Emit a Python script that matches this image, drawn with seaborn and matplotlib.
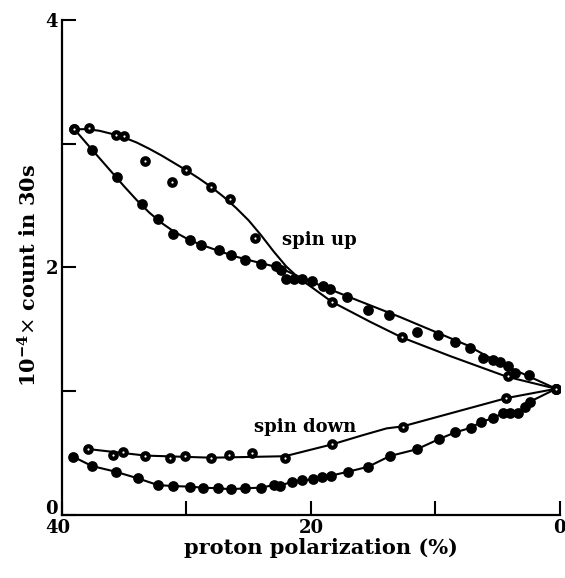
import matplotlib
matplotlib.use("Agg")
import matplotlib.pyplot as plt
import matplotlib.transforms as mtransforms
import pandas as pd
import seaborn as sns

# spin up, open-circle series (upper arc, then lower line on the right)
up_open_x = [39.0, 37.8, 35.7, 35.0, 33.3, 31.2, 30.0, 28.0, 26.5, 24.5, 18.3, 12.7, 4.2, 0.3]
up_open_y = [3.12, 3.13, 3.07, 3.06, 2.86, 2.69, 2.79, 2.65, 2.55, 2.24, 1.72, 1.44, 1.12, 1.02]

# spin up, filled series
up_fill_x = [39.0, 37.6, 35.6, 33.6, 32.3, 31.1, 29.7, 28.8, 27.4, 26.4, 25.3, 24.0, 22.8, 22.4,
             22.0, 21.4, 20.7, 19.9, 19.0, 18.5, 17.1, 15.4, 13.7, 11.5, 9.8, 8.4, 7.2, 6.2,
             5.4, 4.8, 4.2, 3.6, 2.5, 0.3]
up_fill_y = [3.12, 2.95, 2.73, 2.51, 2.39, 2.27, 2.22, 2.18, 2.14, 2.10, 2.06, 2.03, 2.01, 1.98,
             1.91, 1.91, 1.905, 1.89, 1.85, 1.83, 1.76, 1.66, 1.62, 1.48, 1.455, 1.40, 1.35, 1.27,
             1.255, 1.24, 1.20, 1.145, 1.135, 1.02]

# spin down, open-circle series
down_open_x = [37.9, 35.9, 35.1, 33.3, 31.3, 30.1, 28.0, 26.6, 24.7, 22.1, 18.3, 12.6, 4.3, 0.3]
down_open_y = [0.533, 0.485, 0.512, 0.48, 0.463, 0.48, 0.463, 0.485, 0.498, 0.463, 0.571, 0.714,
               0.945, 1.02]

# spin down, filled series
down_fill_x = [39.1, 37.6, 35.7, 33.9, 32.3, 31.1, 29.7, 28.7, 27.5, 26.4, 25.3, 24.0, 23.0, 22.5,
               21.5, 20.7, 19.8, 19.1, 18.4, 17.0, 15.4, 13.65, 11.5, 9.7, 8.4, 7.15, 6.3, 5.4,
               4.6, 4.0, 3.4, 2.8, 2.4, 0.3]
down_fill_y = [0.471, 0.396, 0.35, 0.296, 0.242, 0.234, 0.229, 0.221, 0.216, 0.208, 0.216, 0.221,
               0.242, 0.237, 0.269, 0.28, 0.288, 0.31, 0.318, 0.35, 0.39, 0.477, 0.531, 0.614,
               0.668, 0.705, 0.754, 0.781, 0.822, 0.822, 0.822, 0.875, 0.916, 1.02]

# drawn curves
curve_up_a_x = [39.0, 38.0, 37.0, 36.0, 35.0, 34.0, 33.0, 32.0, 31.0, 30.0, 29.0, 28.0, 27.0,
                26.0, 25.0, 24.0, 23.0, 22.0, 21.3, 20.5, 20.0, 18.34, 15.26, 12.72, 8.84, 4.28, 0.3]
curve_up_a_y = [3.117, 3.118, 3.105, 3.08, 3.05, 3.01, 2.96, 2.905, 2.845, 2.785, 2.72, 2.65, 2.57,
                2.48, 2.38, 2.26, 2.13, 2.01, 1.945, 1.88, 1.845, 1.724, 1.562, 1.436, 1.285, 1.118, 1.02]
curve_up_b_x = [39.0, 38.0, 37.0, 36.0, 35.0, 34.0, 33.0, 32.0, 31.0, 30.0, 29.0, 28.0, 27.0,
                26.0, 25.0, 24.0, 23.0, 22.0, 21.3, 19.0, 17.0, 12.85, 7.5, 4.82, 0.3]
curve_up_b_y = [3.117, 3.0, 2.885, 2.77, 2.655, 2.545, 2.445, 2.36, 2.29, 2.235, 2.19, 2.155, 2.12,
                2.087, 2.06, 2.035, 2.01, 1.975, 1.94, 1.845, 1.764, 1.60, 1.374, 1.226, 1.02]
curve_down_a_x = [37.9, 33.28, 27.98, 22.09, 18.29, 15.8, 13.92, 12.64, 4.28, 0.3]
curve_down_a_y = [0.533, 0.48, 0.463, 0.475, 0.571, 0.646, 0.70, 0.716, 0.945, 1.02]

sns.set_theme(style="ticks")
plt.rcParams['font.family'] = ['DejaVu Serif']
plt.rcParams['mathtext.fontset'] = 'dejavuserif'
plt.rcParams['text.color'] = 'black'
plt.rcParams['axes.labelcolor'] = 'black'

fig = plt.figure(figsize=(5.65, 5.78), dpi=100)
ax = fig.add_axes([0.1097, 0.109, 0.8813, 0.8564])

line_kw = dict(color="black", linewidth=1.5, sort=False, estimator=None, ax=ax)
sns.lineplot(x=curve_up_a_x, y=curve_up_a_y, **line_kw)
sns.lineplot(x=curve_up_b_x, y=curve_up_b_y, **line_kw)
sns.lineplot(x=curve_down_a_x, y=curve_down_a_y, **line_kw)
sns.lineplot(x=down_fill_x, y=down_fill_y, **line_kw)

fill_kw = dict(color="black", s=60, linewidth=0, zorder=3, ax=ax)
open_kw = dict(facecolor="white", edgecolor="black", s=22, linewidth=3.0, zorder=4, ax=ax)
sns.scatterplot(x=up_fill_x, y=up_fill_y, **fill_kw)
sns.scatterplot(x=down_fill_x, y=down_fill_y, **fill_kw)
sns.scatterplot(x=up_open_x, y=up_open_y, **open_kw)
sns.scatterplot(x=down_open_x, y=down_open_y, **open_kw)

ax.text(19.3, 2.22, "spin up", fontsize=13, fontweight="bold", ha="center", va="center",
        color="black")
ax.text(20.5, 0.714, "spin down", fontsize=13, fontweight="bold", ha="center", va="center",
        color="black")

ax.set_xlim(40, 0)
ax.set_ylim(0, 4)
ax.set_xticks([40, 30, 20, 10, 0])
ax.set_xticklabels(["40", "", "20", "", "0"])
ax.set_yticks([0, 1, 2, 3, 4])
ax.set_yticklabels(["0", "", "2", "", "4"])
ax.tick_params(direction="in", length=10, width=1.5, labelsize=13, pad=3, colors="black")
for lab in ax.get_xticklabels() + ax.get_yticklabels():
    lab.set_fontweight("bold")
# lift the y "0" so it sits beside the corner, above the x "40"
zero_lab = ax.yaxis.get_major_ticks()[0].label1
zero_lab.set_transform(zero_lab.get_transform() +
                       mtransforms.ScaledTranslation(0, 6 / 72, fig.dpi_scale_trans))
forty_lab = ax.xaxis.get_major_ticks()[0].label1
forty_lab.set_transform(forty_lab.get_transform() +
                        mtransforms.ScaledTranslation(-3 / 72, 0, fig.dpi_scale_trans))

sns.despine(ax=ax)
for side in ["left", "bottom"]:
    ax.spines[side].set_linewidth(1.6)
    ax.spines[side].set_color("black")

ax.set_xlabel("proton polarization (%)", fontsize=15, fontweight="bold", color="black")
ax.set_ylabel(r"10$^{\mathbf{-4}}$$\times$ count in 30s", fontsize=15, fontweight="bold",
              color="black")
ax.xaxis.set_label_coords(0.52, -0.046)
ax.yaxis.set_label_coords(-0.043, 0.485)
ax.xaxis.label.set_va("top")
ax.yaxis.label.set_va("bottom")

fig.savefig("out.png", dpi=100)
